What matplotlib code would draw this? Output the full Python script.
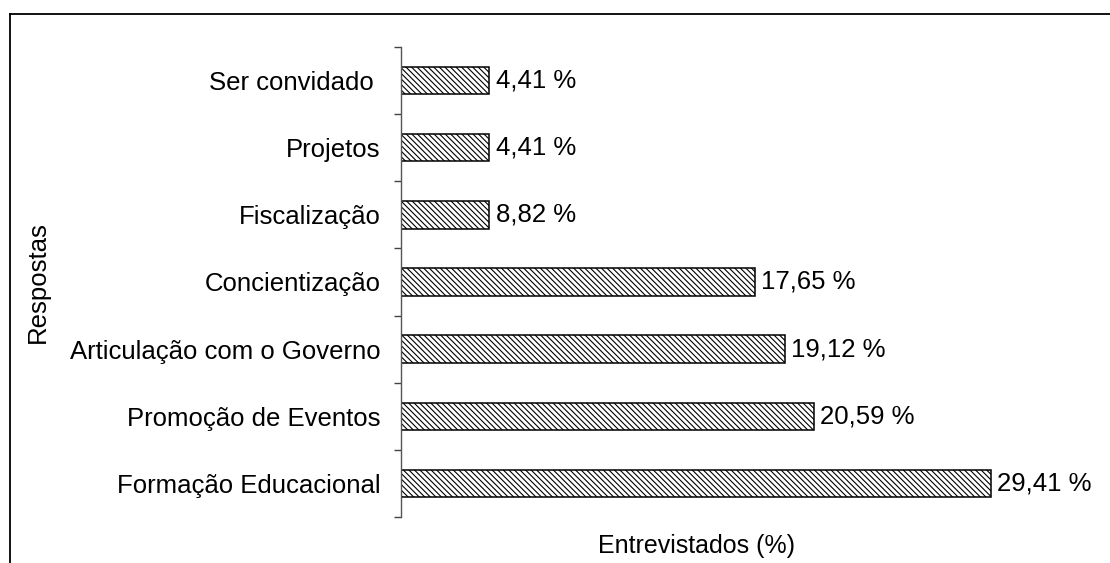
import matplotlib
matplotlib.use("Agg")
import matplotlib.pyplot as plt
from matplotlib.lines import Line2D

categories = ["Formação Educacional", "Promoção de Eventos", "Articulação com o Governo",
              "Concientização", "Fiscalização", "Projetos", "Ser convidado "]
# bar lengths as drawn in the picture (the Fiscalização bar is drawn as long as 4,41 %)
bar_lengths = [29.41, 20.59, 19.12, 17.65, 4.41, 4.41, 4.41]
value_labels = ["29,41 %", "20,59 %", "19,12 %", "17,65 %", "8,82 %", "4,41 %", "4,41 %"]

plt.rcParams['font.family'] = ['Liberation Sans', 'DejaVu Sans']
plt.rcParams['hatch.linewidth'] = 0.8

FS = 18.5
W, H = 1110, 563
fig = plt.figure(figsize=(W / 100, H / 100), dpi=100)
ax = fig.add_axes([401 / W, 1 - 517 / H, (993 - 401) / W, (517 - 47) / H])

y = list(range(len(categories)))
ax.barh(y, bar_lengths, height=0.41, color='white', edgecolor='black', linewidth=1.1,
        hatch='\\' * 6, left=0)
for yi, v, lab in zip(y, bar_lengths, value_labels):
    ax.text(v + 0.3, yi, lab, va='center', ha='left', fontsize=FS)

ax.set_xlim(0, 29.5)
ax.set_ylim(-0.5, len(categories) - 0.5)
ax.set_yticks(y)
ax.set_yticklabels(categories, fontsize=FS)
ax.tick_params(axis='y', which='major', length=0, pad=14.5)
ax.set_yticks([i - 0.5 for i in range(len(categories) + 1)], minor=True)
ax.tick_params(axis='y', which='minor', length=5, width=1, color='#444444', direction='out')
ax.set_xticks([])
for s in ['top', 'right', 'bottom']:
    ax.spines[s].set_visible(False)
ax.spines['left'].set_color('#555555')
ax.spines['left'].set_linewidth(1.0)

ax.set_xlabel("Entrevistados (%)", fontsize=FS - 0.5, labelpad=12)
ax.set_ylabel("Respostas", fontsize=FS, va='center')
ax.yaxis.set_label_coords((38 - 401) / (993 - 401), 0.5)

# outer frame (top and left edges visible)
fig.add_artist(Line2D([9.5 / W, 1.0], [1 - 13.5 / H, 1 - 13.5 / H], color='black', lw=1.3,
                      transform=fig.transFigure))
fig.add_artist(Line2D([9.5 / W, 9.5 / W], [0, 1 - 13.5 / H], color='black', lw=1.3,
                      transform=fig.transFigure))

fig.savefig("out.png", dpi=100)
